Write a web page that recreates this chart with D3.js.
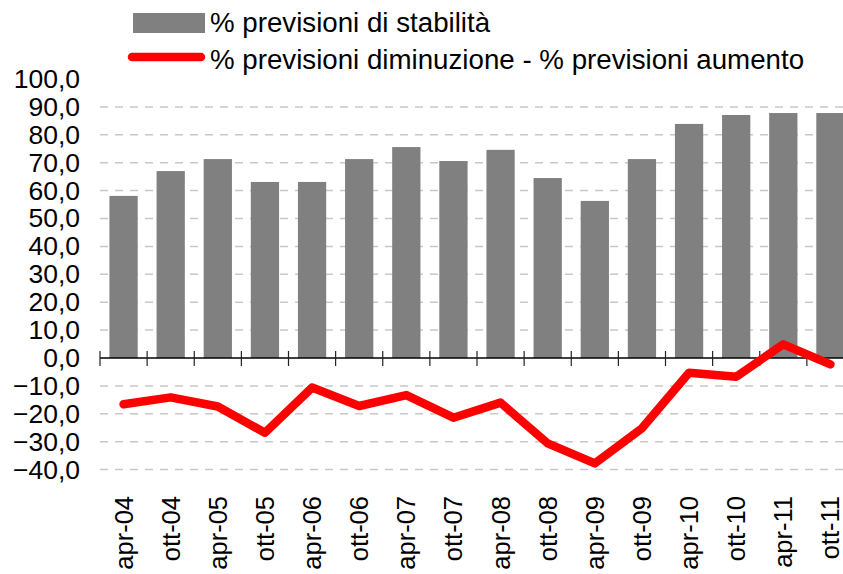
<!DOCTYPE html>
<html>
<head>
<meta charset="utf-8">
<script src="https://cdn.jsdelivr.net/npm/d3@7"></script>
<style>
    body { margin: 0; background: #fff; }
    text { font-family: "Liberation Sans", Arial, sans-serif; fill: #000; }
</style>
</head>
<body>
<div class="chart"></div>
<script>
// ---- data ----
var periods = ["apr-04", "ott-04", "apr-05", "ott-05", "apr-06", "ott-06", "apr-07", "ott-07",
    "apr-08", "ott-08", "apr-09", "ott-09", "apr-10", "ott-10", "apr-11", "ott-11"];
var stability = [58.1, 67.0, 71.3, 63.1, 63.1, 71.3, 75.6, 70.6,
    74.6, 64.5, 56.3, 71.3, 83.9, 87.1, 87.8, 87.8];
var balance = [-16.6, -14.1, -17.4, -26.8, -10.6, -17.2, -13.3, -21.4,
    -16.0, -30.6, -37.8, -25.2, -5.3, -6.7, 4.9, -2.3];
var yTicks = [100, 90, 80, 70, 60, 50, 40, 30, 20, 10, 0, -10, -20, -30, -40];
var legendLabels = ["% previsioni di stabilità", "% previsioni diminuzione - % previsioni aumento"];

// ---- svg setup ----
var svgWidth = 843;
var svgHeight = 574;

var svg = d3.select(".chart")
    .append("svg")
    .attr("width", svgWidth)
    .attr("height", svgHeight);

// plot area runs a bit past the right edge, like the cropped original
var plotLeft = 100;
var plotRight = 854;

var xScale = d3.scaleBand()
    .domain(periods)
    .range([plotLeft, plotRight])
    .paddingInner(0.4)
    .paddingOuter(0.2);

var yScale = d3.scaleLinear()
    .domain([-40, 100])
    .range([469.6, 79]);

var step = xScale.step();

// dashed gridlines (none at 0 and 100)
svg.append("g")
    .selectAll("line")
    .data(yTicks.filter(d => d !== 0 && d !== 100))
    .enter()
    .append("line")
    .attr("x1", plotLeft)
    .attr("x2", plotRight)
    .attr("y1", d => yScale(d))
    .attr("y2", d => yScale(d))
    .attr("stroke", "#c8c8c8")
    .attr("stroke-width", 1.5)
    .attr("stroke-dasharray", "8,7");

// y labels, right aligned
var leftAxis = d3.axisLeft(yScale)
    .tickValues(yTicks)
    .tickSize(0)
    .tickPadding(0)
    .tickFormat(d => d3.format(".1f")(d).replace(".", ","));

var yAxis = svg.append("g")
    .attr("transform", "translate(80,0)")
    .call(leftAxis);
yAxis.select(".domain").remove();
yAxis.selectAll("text")
    .style("font-size", "26.5px")
    .attr("fill", "#000");

// bars
svg.append("g")
    .selectAll("rect")
    .data(stability)
    .enter()
    .append("rect")
    .attr("x", (d, i) => xScale(periods[i]))
    .attr("y", d => yScale(d))
    .attr("width", xScale.bandwidth())
    .attr("height", d => yScale(0) - yScale(d))
    .attr("fill", "#808080");

// category axis at zero, ticks at the band edges crossing the line
svg.append("line")
    .attr("x1", plotLeft)
    .attr("x2", plotRight)
    .attr("y1", yScale(0))
    .attr("y2", yScale(0))
    .attr("stroke", "#000")
    .attr("stroke-width", 1.5);

var edges = periods.map(p => xScale(p) - step * xScale.paddingInner() / 2);
edges.push(edges[edges.length - 1] + step);

svg.append("g")
    .selectAll("line")
    .data(edges)
    .enter()
    .append("line")
    .attr("x1", d => d)
    .attr("x2", d => d)
    .attr("y1", yScale(0) - 7)
    .attr("y2", yScale(0) + 8)
    .attr("stroke", "#222")
    .attr("stroke-width", 1.2);

// rotated category labels at the bottom
svg.append("g")
    .selectAll("text")
    .data(periods)
    .enter()
    .append("text")
    .attr("transform", d => `translate(${xScale(d) + xScale.bandwidth() / 2 + 9},496) rotate(-90)`)
    .attr("text-anchor", "end")
    .style("font-size", "25.5px")
    .text(d => d);

// red balance line
var line = d3.line()
    .x((d, i) => xScale(periods[i]) + xScale.bandwidth() / 2)
    .y(d => yScale(d));

svg.append("path")
    .datum(balance)
    .attr("d", line)
    .attr("fill", "none")
    .attr("stroke", "#ff0000")
    .attr("stroke-width", 8.5)
    .attr("stroke-linecap", "round")
    .attr("stroke-linejoin", "round");

// legend
var legend = svg.append("g");

legend.append("rect")
    .attr("x", 133)
    .attr("y", 13)
    .attr("width", 72)
    .attr("height", 20)
    .attr("fill", "#808080");

legend.append("line")
    .attr("x1", 132)
    .attr("x2", 201)
    .attr("y1", 57)
    .attr("y2", 57)
    .attr("stroke", "#ff0000")
    .attr("stroke-width", 8.5)
    .attr("stroke-linecap", "round");

legend.selectAll("text")
    .data(legendLabels)
    .enter()
    .append("text")
    .attr("x", 210)
    .attr("y", (d, i) => 32 + i * 37)
    .style("font-size", "27.7px")
    .text(d => d);
</script>
</body>
</html>
